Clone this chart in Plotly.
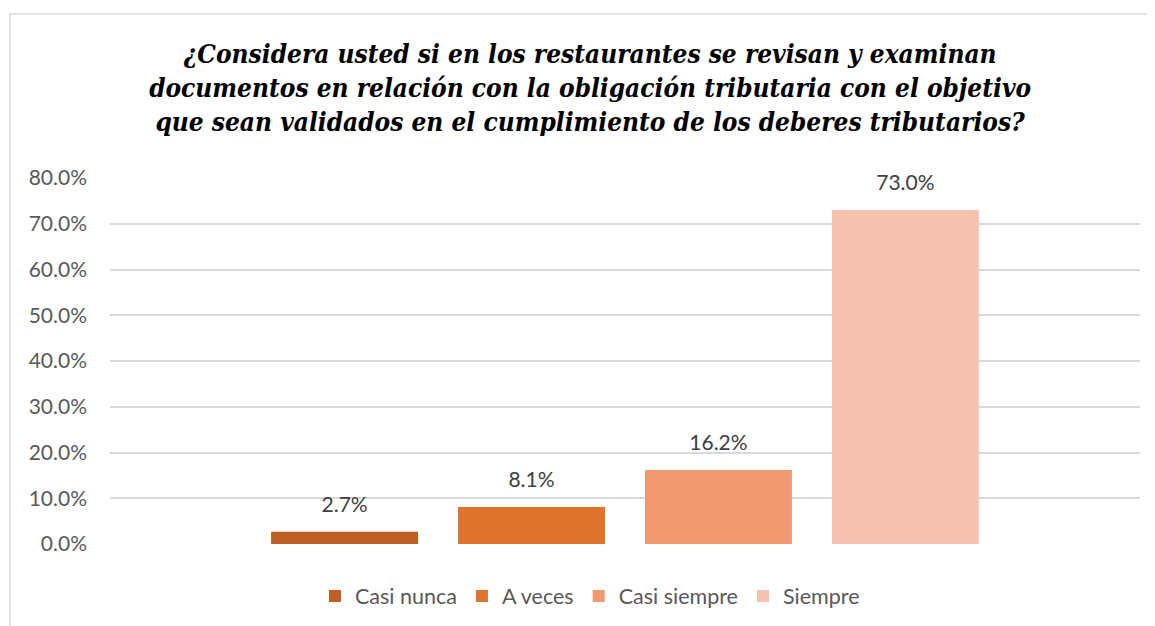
import plotly.graph_objects as go

categories = [""]
series_names = ["Casi nunca", "A veces", "Casi siempre", "Siempre"]
series_values = [2.7, 8.1, 16.2, 73.0]
series_colors = ["#BC5F23", "#DE742D", "#F09971", "#F5C2B0"]
tick_vals = [0, 10, 20, 30, 40, 50, 60, 70, 80]
tick_text = ["0.0%", "10.0%", "20.0%", "30.0%", "40.0%", "50.0%", "60.0%", "70.0%", "80.0%"]
title_lines = ["¿Considera usted si en los restaurantes se revisan y examinan",
               "documentos en relación con la obligación tributaria con el objetivo",
               "que sean validados en el cumplimiento de los deberes tributarios?"]

TXT = "Lato"
fig = go.Figure()
for name, val, col in zip(series_names, series_values, series_colors):
    fig.add_trace(go.Bar(
        x=categories, y=[val], name=name, offsetgroup=name,
        marker=dict(color=col, line=dict(width=0)),
        hoverinfo="skip",
    ))
for name, val in zip(series_names, series_values):
    fig.add_trace(go.Scatter(
        x=categories, y=[val], name=name + " label", offsetgroup=name,
        mode="markers+text", marker=dict(size=22, opacity=0),
        text=[f"{val:.1f}%"], textposition="top center", cliponaxis=False,
        textfont=dict(family=TXT, size=21, color="#404040"),
        showlegend=False, hoverinfo="skip",
    ))

fig.update_layout(
    width=1155, height=626,
    margin=dict(l=102, r=23, t=170, b=90),
    paper_bgcolor="white", plot_bgcolor="white",
    barmode="group", bargap=0.274, bargroupgap=0.214,
    scattermode="group", scattergap=0.274,
    title=dict(text="<b><i>" + "<br>".join(title_lines) + "</i></b>",
               x=0.504, xanchor="center", y=0.912, yanchor="middle",
               font=dict(family="DejaVu Serif Condensed", size=26,
                         color="black", weight="bold", style="italic")),
    showlegend=True,
    legend=dict(orientation="h", x=0.466, xanchor="center", y=-0.142, yanchor="middle",
                font=dict(family=TXT, size=21.5, color="#595959"), itemwidth=30,
                traceorder="normal"),
    xaxis=dict(showticklabels=False, showgrid=False, zeroline=False, showline=False),
    yaxis=dict(range=[0, 80], tickvals=tick_vals, ticktext=tick_text,
               showgrid=True, gridcolor="#D9D9D9", gridwidth=1.5, zeroline=False,
               showline=False, ticks="", ticklabelstandoff=22,
               tickfont=dict(family=TXT, size=21, color="#595959")),
)

fig.add_shape(type="rect", xref="paper", yref="paper",
              x0=-100/1030, x1=1.1, y0=-0.3, y1=530/366,
              line=dict(color="#D9D9D9", width=1.5), fillcolor="rgba(0,0,0,0)", layer="below")

fig.write_html("out.html")
